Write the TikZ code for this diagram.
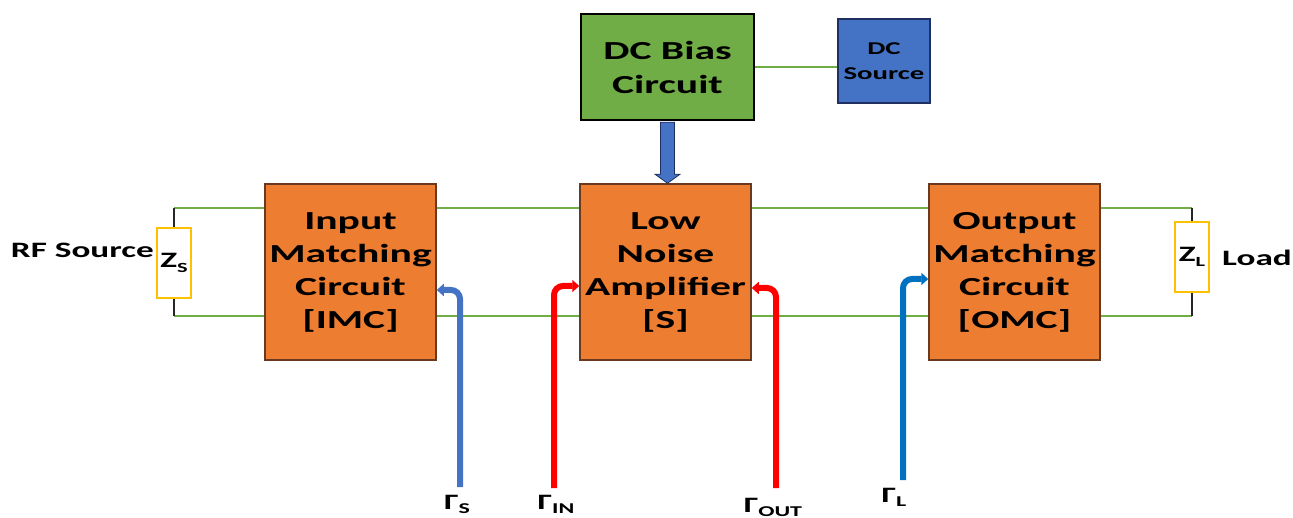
\documentclass[tikz,border=0pt]{standalone}
\usepackage{fontspec}
\newfontfamily\lbl{Carlito}[FakeStretch=1.6]
\usetikzlibrary{arrows.meta,calc}
\definecolor{orng}{HTML}{ED7D31}
\definecolor{orngd}{HTML}{6B3A1E}
\definecolor{grn}{HTML}{70AD47}
\definecolor{blu}{HTML}{4472C4}
\definecolor{blud}{HTML}{1F2F5F}
\definecolor{ylw}{HTML}{FFC000}
\definecolor{lblue}{HTML}{0070C0}
\definecolor{rd}{HTML}{FF0000}
\begin{document}
\begin{tikzpicture}[x=1pt,y=-1pt,
  blk/.style={draw=orngd, line width=1.5pt, fill=orng, minimum width=171pt, minimum height=176pt, inner sep=0pt, align=center, font=\lbl\bfseries\fontsize{26}{33}\selectfont},
  wire/.style={draw=grn, line width=1.5pt},
  lead/.style={draw=black!85, line width=2.5pt},
  imp/.style={draw=ylw, line width=2pt, fill=white, minimum width=34pt, minimum height=70pt, inner sep=0pt, font=\lbl\bfseries\fontsize{22}{22}\selectfont},
  txt/.style={inner sep=0pt, font=\lbl\bfseries\fontsize{22}{22}\selectfont},
  gam/.style={line width=6pt, rounded corners=9pt, -{Triangle[length=7pt,width=12pt]}},
  glab/.style={inner sep=0pt, font=\lbl\bfseries\fontsize{22}{22}\selectfont}
]
\useasboundingbox (0,0) rectangle (1293,518);
% blocks
\node[blk] (imc) at (350.5,272) {\raisebox{4pt}{\begin{tabular}{@{}c@{}}Input\\Matching\\Circuit\\{[IMC]}\end{tabular}}};
\node[blk] (lna) at (665.5,272) {\raisebox{4pt}{\begin{tabular}{@{}c@{}}Low\\Noise\\Amplifier\\{[S]}\end{tabular}}};
\node[blk] (omc) at (1014.5,272) {\raisebox{2pt}{\begin{tabular}{@{}c@{}}Output\\Matching\\Circuit\\{[OMC]}\end{tabular}}};
\node[draw=black, line width=2.5pt, fill=grn, minimum width=173pt, minimum height=106pt, inner sep=0pt, align=center, font=\lbl\bfseries\fontsize{26}{34}\selectfont] (dcb) at (667.5,67) {DC Bias\\Circuit};
\node[draw=blud, line width=2pt, fill=blu, minimum width=92pt, minimum height=84pt, inner sep=0pt, align=center, font=\lbl\bfseries\fontsize{18}{25}\selectfont] (dcs) at (884,61) {DC\\Source};
% impedances
\node[imp] (zs) at (174,263) {};
\node[imp] (zl) at (1192,257) {};
\node[txt, anchor=east] (rfs) at (154,250) {RF Source};
\node[txt, anchor=west] (load) at (1222,258) {Load};
% wire corners
\coordinate (lt) at (174,208);
\coordinate (lb) at (174,316);
\coordinate (rt) at (1192,208);
\coordinate (rb) at (1192,316);
\draw[wire] (lt) -- (imc.west |- lt);
\draw[wire] (lb) -- (imc.west |- lb);
\draw[wire] (imc.east |- lt) -- (lna.west |- lt);
\draw[wire] (imc.east |- lb) -- (lna.west |- lb);
\draw[wire] (lna.east |- lt) -- (omc.west |- lt);
\draw[wire] (lna.east |- lb) -- (omc.west |- lb);
\draw[wire] (omc.east |- rt) -- (rt);
\draw[wire] (omc.east |- rb) -- (rb);
\draw[lead] (lt) -- (zs.north);
\draw[lead] (zs.south) -- (lb);
\draw[lead] (rt) -- (zl.north);
\draw[lead] (zl.south) -- (rb);
\node[imp] (zst) at (zs) {Z{\fontsize{14}{14}\selectfont\raisebox{-5pt}{S}}};
\node[imp] (zlt) at (zl) {Z{\fontsize{14}{14}\selectfont\raisebox{-5pt}{L}}};
% DC link
\draw[wire] (dcb.east) -- (dcs.west |- dcb.east);
% bias arrow
\coordinate (ah) at (lna.north -| dcb.south);
\filldraw[fill=blu, draw=blud, line width=0.8pt]
  ($(dcb.south)+(-7,1)$) -- ($(dcb.south)+(7,1)$) -- ($(ah)+(7,-9)$) -- ($(ah)+(12.5,-9)$)
  -- (ah) -- ($(ah)+(-12.5,-9)$) -- ($(ah)+(-7,-9)$) -- cycle;
% gamma labels
\node[glab] (gs) at (457,504) {Γ{\fontsize{15}{15}\selectfont\raisebox{-4pt}{S}}};
\node[glab] (gin) at (556,504) {Γ{\fontsize{15}{15}\selectfont\raisebox{-4pt}{IN}}};
\node[glab] (gout) at (773,507) {Γ{\fontsize{15}{15}\selectfont\raisebox{-4pt}{OUT}}};
\node[glab] (gl) at (894,497) {Γ{\fontsize{15}{15}\selectfont\raisebox{-4pt}{L}}};
\coordinate (gsb) at (460,487);
\coordinate (ginb) at (554,488);
\coordinate (goutb) at (776,488);
\coordinate (glb) at (903,480);
\draw[gam, draw=blu] (gsb) |- (imc.east |- 0,290);
\draw[gam, draw=rd] (ginb) |- (lna.west |- 0,286);
\draw[gam, draw=rd] (goutb) |- (lna.east |- 0,288);
\draw[gam, draw=lblue] (glb) |- (omc.west |- 0,279);
\end{tikzpicture}
\end{document}
